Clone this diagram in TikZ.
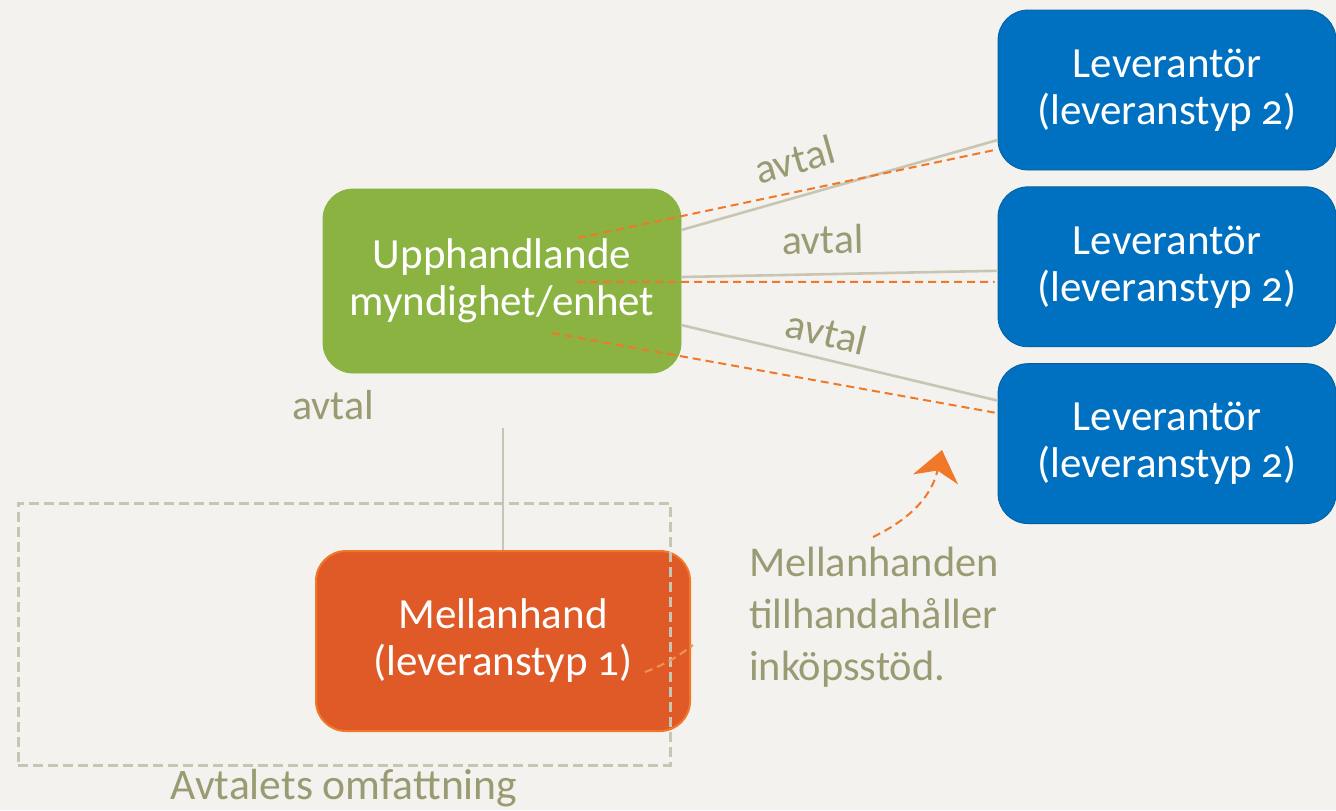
\documentclass[tikz,border=0pt]{standalone}
\usepackage{fontspec}
\setmainfont{Carlito}[Numbers=OldStyle]
\usetikzlibrary{calc, arrows.meta, positioning}
\definecolor{bg}{HTML}{F3F2EE}
\definecolor{upphgreen}{HTML}{8AB342}
\definecolor{levblue}{HTML}{0070C0}
\definecolor{mellorange}{HTML}{E05A28}
\definecolor{dashorange}{HTML}{F07828}
\definecolor{linegray}{HTML}{C8C6B2}
\definecolor{olive}{HTML}{9A9A73}
\begin{document}
\begin{tikzpicture}[x=0.5pt, y=-0.5pt,
    b/.style={rounded corners=15pt, text=white, align=center, font=\fontsize{21.5}{23.5}\selectfont},
    lev/.style={b, fill=levblue, draw=levblue!85!black, minimum width=169pt, minimum height=80pt},
    upph/.style={b, fill=upphgreen, draw=upphgreen, minimum width=179pt, minimum height=92pt},
    mell/.style={b, fill=mellorange, draw=dashorange, line width=1pt, minimum width=187pt, minimum height=90pt},
    lbl/.style={text=olive, font=\fontsize{21}{24}\selectfont},
    g/.style={draw=linegray, line width=1.3pt},
    o/.style={draw=dashorange, line width=1pt, dash pattern=on 4pt off 2.5pt},
    omf/.style={draw=linegray, line width=1.5pt, dash pattern=on 5pt off 2.5pt, minimum width=326pt, minimum height=131pt}]
    \fill[bg] (0,0) rectangle (1336,810);
    \useasboundingbox (0,0) rectangle (1336,810);

    \node[upph] (upph) at (502,281) {Upphandlande\\myndighet/enhet};
    \node[lev] (lev1) at (1167,90) {Leverantör\\(leveranstyp 2)};
    \foreach \x [evaluate = \x as \xp using int(\x-1)] in {2,3}
    \node[lev, below=8pt of lev\xp] (lev\x) {Leverantör\\(leveranstyp 2)};
    \node[mell] (mell) at (503,641) {Mellanhand\\(leveranstyp 1)};

    % avtal mellan myndighet och leverantörer
    \draw[g] ($(upph.east)+(0,-51)$) -- node[lbl, pos=.39, above=7pt, sloped] (avtal1) {avtal} ($(lev1.west)+(0,50)$);
    \draw[g] ($(upph.east)+(0,-4)$) -- node[lbl, pos=.45, above=6pt, sloped] (avtal2) {avtal} ($(lev2.west)+(0,4)$);
    \draw[g] ($(upph.east)+(0,44)$) -- node[lbl, pos=.44, above=2pt, sloped] (avtal3) {avtal} ($(lev3.west)+(0,-43)$);

    \draw[o] ($(upph.center)+(76,-43)$) -- ($(lev1.west)+(-3,60)$);
    \draw[o] ($(upph.center)+(75,1)$) -- ($(lev2.west)+(-3,15)$);
    \draw[o] ($(upph.center)+(50,52)$) -- ($(lev3.west)+(-3,-31)$);

    % avtal med mellanhanden
    \coordinate (a0) at (503,428);
    \draw[g] (a0) -- (mell.north);
    \node[lbl] (avtal0) at (333,405) {avtal};

    \node[omf] (omf) at (344,634) {};
    \node[lbl, below=-2pt of omf, font=\fontsize{21.8}{24}\selectfont] (omflbl) {Avtalets omfattning};

    \coordinate (m0) at (645,672);
    \coordinate (m1) at (693,645);
    \draw[o, draw=dashorange!80] (m0) to[bend right=8] (m1);

    \node[lbl, align=left, font=\fontsize{21.2}{26}\selectfont] (note) at (874,617) {Mellanhanden\\tillhandahåller\\inköpsstöd.};
    \coordinate (c0) at (873,537);
    \coordinate (c1) at (942,450);
    \draw[o, -{Stealth[length=15pt, width=23pt, inset=4.5pt]}] (c0) .. controls (912,518) and (932,495) .. (c1);
\end{tikzpicture}
\end{document}
